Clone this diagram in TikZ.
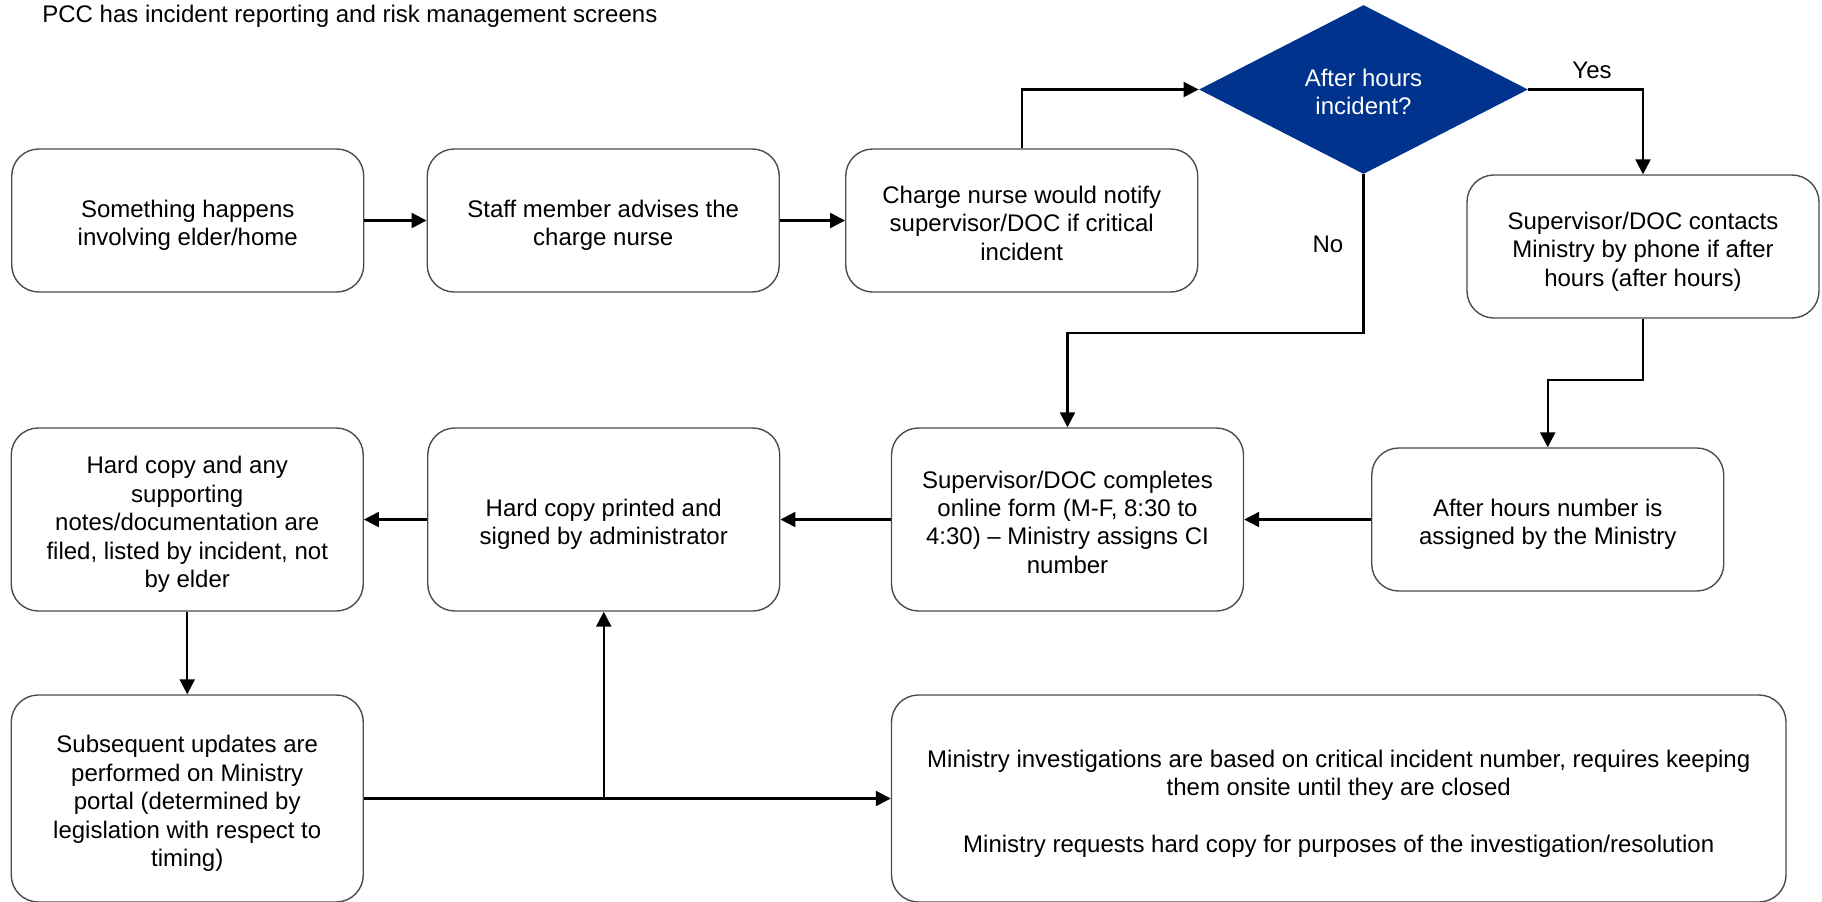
\documentclass[tikz,border=0pt]{standalone}
\usepackage{fontspec}
\setmainfont{Liberation Sans}
\usetikzlibrary{arrows.meta,shapes.geometric}
\definecolor{decisionblue}{HTML}{00338D}
% text block with a fixed ascent above its first line and descent below its last
\newcommand{\ascentstrut}{\rule{0pt}{1.15em}}
\newcommand{\descentstrut}{\rule[-0.212em]{0pt}{0.212em}}
\newcommand{\blocktext}[1]{\ascentstrut#1\descentstrut}
\begin{document}
\begin{tikzpicture}[x=0.5pt,y=-0.5pt,
  font=\fontsize{12}{14.2}\selectfont,
  stepbox/.style={draw=black!70,line width=0.7pt,rounded corners=13.5pt,
    align=center,inner sep=0pt,minimum width=176pt,minimum height=71.5pt},
  tallbox/.style={stepbox,minimum height=91.5pt},
  footbox/.style={stepbox,minimum height=103.5pt},
  decision/.style={diamond,fill=decisionblue,text=white,align=center,
    inner sep=0pt,aspect=1.96,minimum width=164.5pt,minimum height=84.5pt},
  flow/.style={line width=1.2pt,-{Triangle[length=7.5pt,width=7.5pt]}},
  tag/.style={inner sep=0pt}]
\useasboundingbox (0,0) rectangle (1822,901);

% heading
\node[tag,anchor=west] (title) at (42,16) {PCC has incident reporting and risk management screens};

% top row
\node[stepbox] (happen) at (187.75,220.5) {\blocktext{Something happens\\involving elder/home}};
\node[stepbox] (advise) at (603.25,220.5) {\blocktext{Staff member advises the\\charge nurse}};
\node[stepbox] (notify) at (1021.75,220.5) {\blocktext{Charge nurse would notify\\supervisor/DOC if critical\\incident}};
\node[decision] (after) at (1363.5,89.5) {\blocktext{After hours\\incident?}};
\node[stepbox] (phone) at (1643,246.5) {\blocktext{Supervisor/DOC contacts\\Ministry by phone if after\\hours (after hours)}};

% middle row
\node[tallbox] (filed) at (187.25,519.5) {\blocktext{Hard copy and any\\supporting\\notes/documentation are\\filed, listed by incident, not\\by elder}};
\node[tallbox] (signed) at (603.75,519.5) {\blocktext{Hard copy printed and\\signed by administrator}};
\node[tallbox] (online) at (1067.5,519.5) {\blocktext{Supervisor/DOC completes\\online form (M-F, 8:30 to\\4:30) – Ministry assigns CI\\number}};
\node[stepbox] (number) at (1547.75,519.5) {\blocktext{After hours number is\\assigned by the Ministry}};

% bottom row
\node[footbox] (updates) at (187.25,798.5) {\blocktext{Subsequent updates are\\performed on Ministry\\portal (determined by\\legislation with respect to\\timing)}};
\node[footbox,minimum width=447.25pt] (invest) at (1338.75,798.5) {\blocktext{Ministry investigations are based on critical incident number, requires keeping\\them onsite until they are closed\\[14.2pt]Ministry requests hard copy for purposes of the investigation/resolution}};

% bend levels and branch point
\coordinate (nolevel) at (0,333);
\coordinate (yeslevel) at (0,380);
\coordinate (branch) at (signed.south |- updates.east);

% connectors
\draw[flow] (happen) -- (advise);
\draw[flow] (advise) -- (notify);
\draw[flow] (notify.north) |- (after.west);
\draw[flow] (after.east) -| (phone.north);
\draw[flow] (after.south) -- (after.south |- nolevel) -| (online.north);
\draw[flow] (phone.south) -- (phone.south |- yeslevel) -| (number.north);
\draw[flow] (number.west) -- (online.east |- number.west);
\draw[flow] (online) -- (signed);
\draw[flow] (signed) -- (filed);
\draw[flow] (filed) -- (updates);
\draw[flow] (updates.east) -- (invest.west |- updates.east);
\draw[flow] (branch) -- (signed.south);

% branch labels
\node[tag] (yes) at (1592,70) {Yes};
\node[tag] (no) at (1328,244) {No};
\end{tikzpicture}
\end{document}
